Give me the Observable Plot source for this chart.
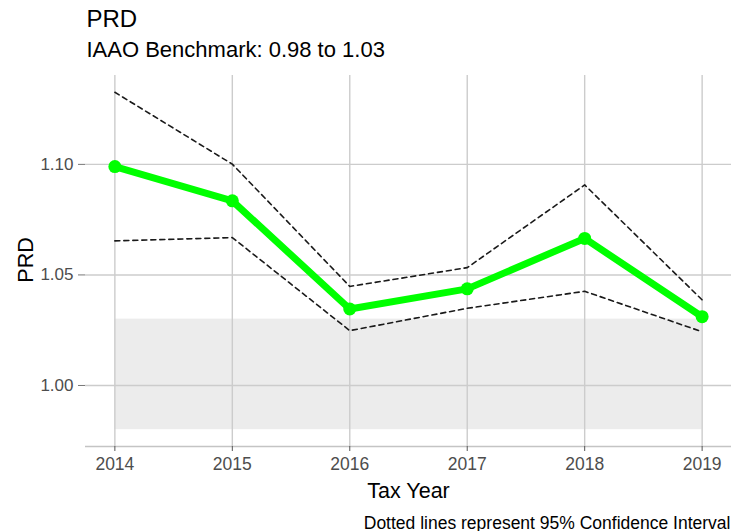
<!DOCTYPE html>
<html>
<head>
<meta charset="utf-8">
<script src="https://cdn.jsdelivr.net/npm/d3@7"></script>
<script src="https://cdn.jsdelivr.net/npm/@observablehq/plot@0.6"></script>
<style>
  html, body { margin: 0; padding: 0; background: #fff; }
  #chart { width: 734px; height: 531px; }
</style>
</head>
<body>
<div id="chart"></div>
<script>
const years = [2014, 2015, 2016, 2017, 2018, 2019];
const prd   = [1.099, 1.0835, 1.0346, 1.0437, 1.0665, 1.0311];
const upper = [1.1326, 1.1001, 1.0448, 1.0533, 1.0907, 1.0387];
const lower = [1.0654, 1.0669, 1.0248, 1.0349, 1.0426, 1.0243];
const yTicks = [1.00, 1.05, 1.10];
const benchLow = 0.98, benchHigh = 1.03;
const titleText = "PRD";
const subtitleText = "IAAO Benchmark: 0.98 to 1.03";
const xLabel = "Tax Year";
const yLabel = "PRD";
const captionText = "Dotted lines represent 95% Confidence Interval";

const rows = years.map((y, i) => ({year: y, prd: prd[i], upper: upper[i], lower: lower[i]}));
const yDomain = [0.9724, 1.1402];
const font = "'Liberation Sans', Arial, sans-serif";

const chart = Plot.plot({
  width: 734,
  height: 531,
  marginTop: 75,
  marginBottom: 85,
  marginLeft: 85,
  marginRight: 3,
  style: {fontFamily: font, background: "#fff", overflow: "visible"},
  x: {domain: [2013.75, 2019.25]},
  y: {domain: yDomain},
  marks: [
    Plot.rect([{x1: years[0], x2: years[years.length - 1], y1: benchLow, y2: benchHigh}],
      {x1: "x1", x2: "x2", y1: "y1", y2: "y2", fill: "#ececec"}),
    Plot.gridX(years, {stroke: "#cccccc", strokeOpacity: 1, strokeWidth: 1.4}),
    Plot.gridY(yTicks, {stroke: "#cccccc", strokeOpacity: 1, strokeWidth: 1.4}),
    Plot.ruleY([yDomain[0]], {stroke: "#c4c4c4", strokeWidth: 1.3}),
    Plot.axisX({ticks: years, tickFormat: d3.format("d"), tickSize: 5, tickPadding: 6,
      fontSize: 17.5, fill: "#4d4d4d", stroke: "#555", label: null}),
    Plot.axisY({ticks: yTicks, tickFormat: d3.format(".2f"), tickSize: 7, tickPadding: 5,
      fontSize: 17, fill: "#4d4d4d", stroke: "#777", label: null}),
    Plot.line(rows, {x: "year", y: "upper", stroke: "#1a1a1a", strokeWidth: 1.6, strokeDasharray: "5,4"}),
    Plot.line(rows, {x: "year", y: "lower", stroke: "#1a1a1a", strokeWidth: 1.6, strokeDasharray: "5,4"}),
    Plot.line(rows, {x: "year", y: "prd", stroke: "#00ff00", strokeWidth: 7, strokeLinejoin: "round", strokeLinecap: "round"}),
    Plot.dot(rows, {x: "year", y: "prd", r: 6.5, fill: "#00ff00", stroke: "none"}),
    Plot.text([titleText], {frameAnchor: "top-left", text: d => d, dx: 1, dy: -48.3,
      textAnchor: "start", lineAnchor: "bottom", fontSize: 24, fill: "#000"}),
    Plot.text([subtitleText], {frameAnchor: "top-left", text: d => d, dx: 1, dy: -18.3,
      textAnchor: "start", lineAnchor: "bottom", fontSize: 22, fill: "#000"}),
    Plot.text([yLabel], {frameAnchor: "left", text: d => d, dx: -53, dy: -1, rotate: -90,
      textAnchor: "middle", lineAnchor: "bottom", fontSize: 21.5, fill: "#000"}),
    Plot.text([xLabel], {frameAnchor: "bottom", text: d => d, dy: 51.3,
      textAnchor: "middle", lineAnchor: "bottom", fontSize: 21.5, fill: "#000"}),
    Plot.text([captionText], {frameAnchor: "bottom-right", text: d => d, dx: -1, dy: 82,
      textAnchor: "end", lineAnchor: "bottom", fontSize: 17.5, fill: "#000"})
  ]
});
document.getElementById("chart").appendChild(chart);
</script>
</body>
</html>
